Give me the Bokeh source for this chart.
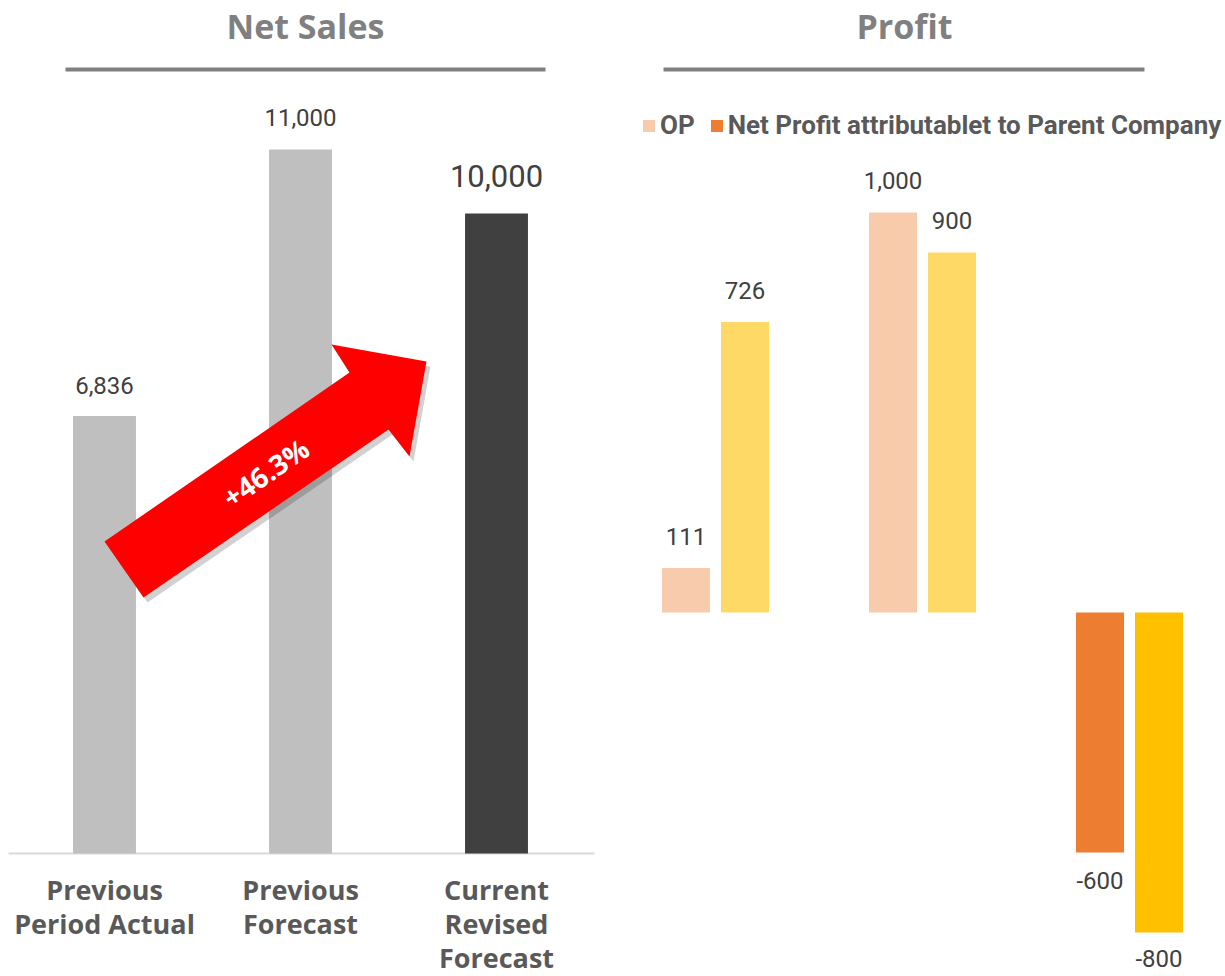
from bokeh.plotting import figure
from bokeh.layouts import row
from bokeh.models import ColumnDataSource, Range1d, Legend, LegendItem
from bokeh.core.properties import value
from bokeh.embed import file_html
from bokeh.resources import INLINE

# ---------------- data ----------------
sales_categories = ["Previous\nPeriod Actual", "Previous\nForecast", "Current\nRevised\nForecast"]
sales_values = [6836, 11000, 10000]
growth_label = "+46.3%"

profit_groups = ["Previous Period Actual", "Previous Forecast", "Current Revised Forecast"]
op_values = [111, 1000, -600]
np_values = [726, 900, -800]
series_names = ["OP", "Net Profit attributablet to Parent Company"]

panel_titles = ["Net Sales", "Profit"]

# ---------------- styles ----------------
sales_colors = ["#BFBFBF", "#BFBFBF", "#404040"]
sales_label_sizes = ["24px", "24px", "31px"]
sales_label_offsets = [-30, -32, -38]
op_colors = ["#F8CBAD", "#F8CBAD", "#ED7D31"]
np_colors = ["#FFD966", "#FFD966", "#FFC000"]
NUM_FONT = value("Roboto")
HEAD_FONT = value("Open Sans")

# ---------------- left: Net Sales ----------------
# reference-pixel helpers (used for decorations only)
def lx(rx):
    return (rx - 104) / 196.0

def ly(ry):
    return (853 - ry) / 0.064

left = figure(width=608, height=976, x_range=Range1d(lx(0), lx(608)),
              y_range=Range1d(ly(976), ly(0)), output_backend="svg", toolbar_location=None,
              x_axis_location=None, y_axis_location=None, min_border=0)
left.grid.visible = False
left.outline_line_color = None

sx = list(range(len(sales_values)))
ssrc = ColumnDataSource(dict(
    x=sx, v=sales_values, color=sales_colors, cat=sales_categories,
    label=[f"{v:,}" for v in sales_values], size=sales_label_sizes, off=sales_label_offsets))

# baseline (category axis line)
left.line(x=[lx(8), lx(594)], y=[0, 0], line_color="#D9D9D9", line_width=2)
left.vbar(x="x", top="v", bottom=0, width=0.321, fill_color="color", line_color=None, source=ssrc)
left.text(x="x", y="v", text="label", text_font_size="size", y_offset="off",
          text_align="center", text_baseline="middle", text_color="#404040",
          text_font=NUM_FONT, source=ssrc)
# category labels
left.text(x="x", y=0, text="cat", y_offset=17, text_align="center", text_baseline="top",
          text_font=HEAD_FONT, text_font_style="bold", text_font_size="27px",
          text_color="#595959", text_line_height=0.92, source=ssrc)

# title + underline
left.text(x=[lx(305)], y=[ly(25)], text=[panel_titles[0]], text_align="center",
          text_baseline="middle", text_font=HEAD_FONT, text_font_style="bold",
          text_font_size="34px", text_color="#808080")
left.line(x=[lx(65), lx(545)], y=[ly(69), ly(69)], line_color="#808080", line_width=4)

# growth arrow (decoration)
arrow_px = [(104, 541), (349, 372), (331, 344), (426, 361), (409, 456), (388, 429), (143, 597)]
left.patch(x=[lx(a + 4) for a, b in arrow_px], y=[ly(b + 5) for a, b in arrow_px],
           fill_color="black", fill_alpha=0.18, line_color=None)
left.patch(x=[lx(a) for a, b in arrow_px], y=[ly(b) for a, b in arrow_px],
           fill_color="#FF0000", line_color=None)
left.text(x=[lx(265)], y=[ly(472)], text=[growth_label], angle=0.604,
          text_align="center", text_baseline="middle", text_color="white",
          text_font=HEAD_FONT, text_font_style="bold", text_font_size="28px")

# ---------------- right: Profit ----------------
def rx_(rx):
    return (rx - 715) / 207.0

def ry_(ry):
    return (612 - ry) / 0.40

right = figure(width=617, height=976, x_range=Range1d(rx_(608), rx_(1225)),
               y_range=Range1d(ry_(976), ry_(0)), output_backend="svg", toolbar_location=None,
               x_axis_location=None, y_axis_location=None, min_border=0)
right.grid.visible = False
right.outline_line_color = None

gx = list(range(len(profit_groups)))
dodge = 0.1425
op_src = ColumnDataSource(dict(x=[g - dodge for g in gx], v=op_values, color=op_colors,
                               label=[f"{v:,}" for v in op_values],
                               off=[-32 if v >= 0 else 28 for v in op_values]))
np_src = ColumnDataSource(dict(x=[g + dodge for g in gx], v=np_values, color=np_colors,
                               label=[f"{v:,}" for v in np_values],
                               off=[-32 if v >= 0 else 26 for v in np_values]))
op_r = right.vbar(x="x", top="v", bottom=0, width=0.232, fill_color="color", line_color=None, source=op_src)
np_r = right.vbar(x="x", top="v", bottom=0, width=0.232, fill_color="color", line_color=None, source=np_src)
for src in (op_src, np_src):
    right.text(x="x", y="v", text="label", y_offset="off", text_align="center",
               text_baseline="middle", text_color="#404040", text_font=NUM_FONT,
               text_font_size="24px", source=src)

right.text(x=[rx_(904)], y=[ry_(25)], text=[panel_titles[1]], text_align="center",
           text_baseline="middle", text_font=HEAD_FONT, text_font_style="bold",
           text_font_size="34px", text_color="#808080")
right.line(x=[rx_(663), rx_(1144)], y=[ry_(69), ry_(69)], line_color="#808080", line_width=4)

# legend swatch for the second series (orange as in the reference legend)
np_swatch = right.vbar(x=[float("nan")], top=[float("nan")], width=0.1,
                       fill_color="#ED7D31", line_color=None)
legend = Legend(items=[LegendItem(label=series_names[0], renderers=[op_r], index=0),
                       LegendItem(label=series_names[1], renderers=[np_swatch])],
                orientation="horizontal", location=(33, 836), padding=0, margin=0,
                spacing=14, glyph_width=15, glyph_height=15, label_standoff=4,
                label_height=22, label_text_font="Roboto",
                label_text_font_style="bold", label_text_font_size="26px",
                label_text_color="#595959", border_line_color=None,
                background_fill_alpha=0)
right.add_layout(legend)

layout = row(left, right)
open("out.html", "w").write(file_html(layout, INLINE))
